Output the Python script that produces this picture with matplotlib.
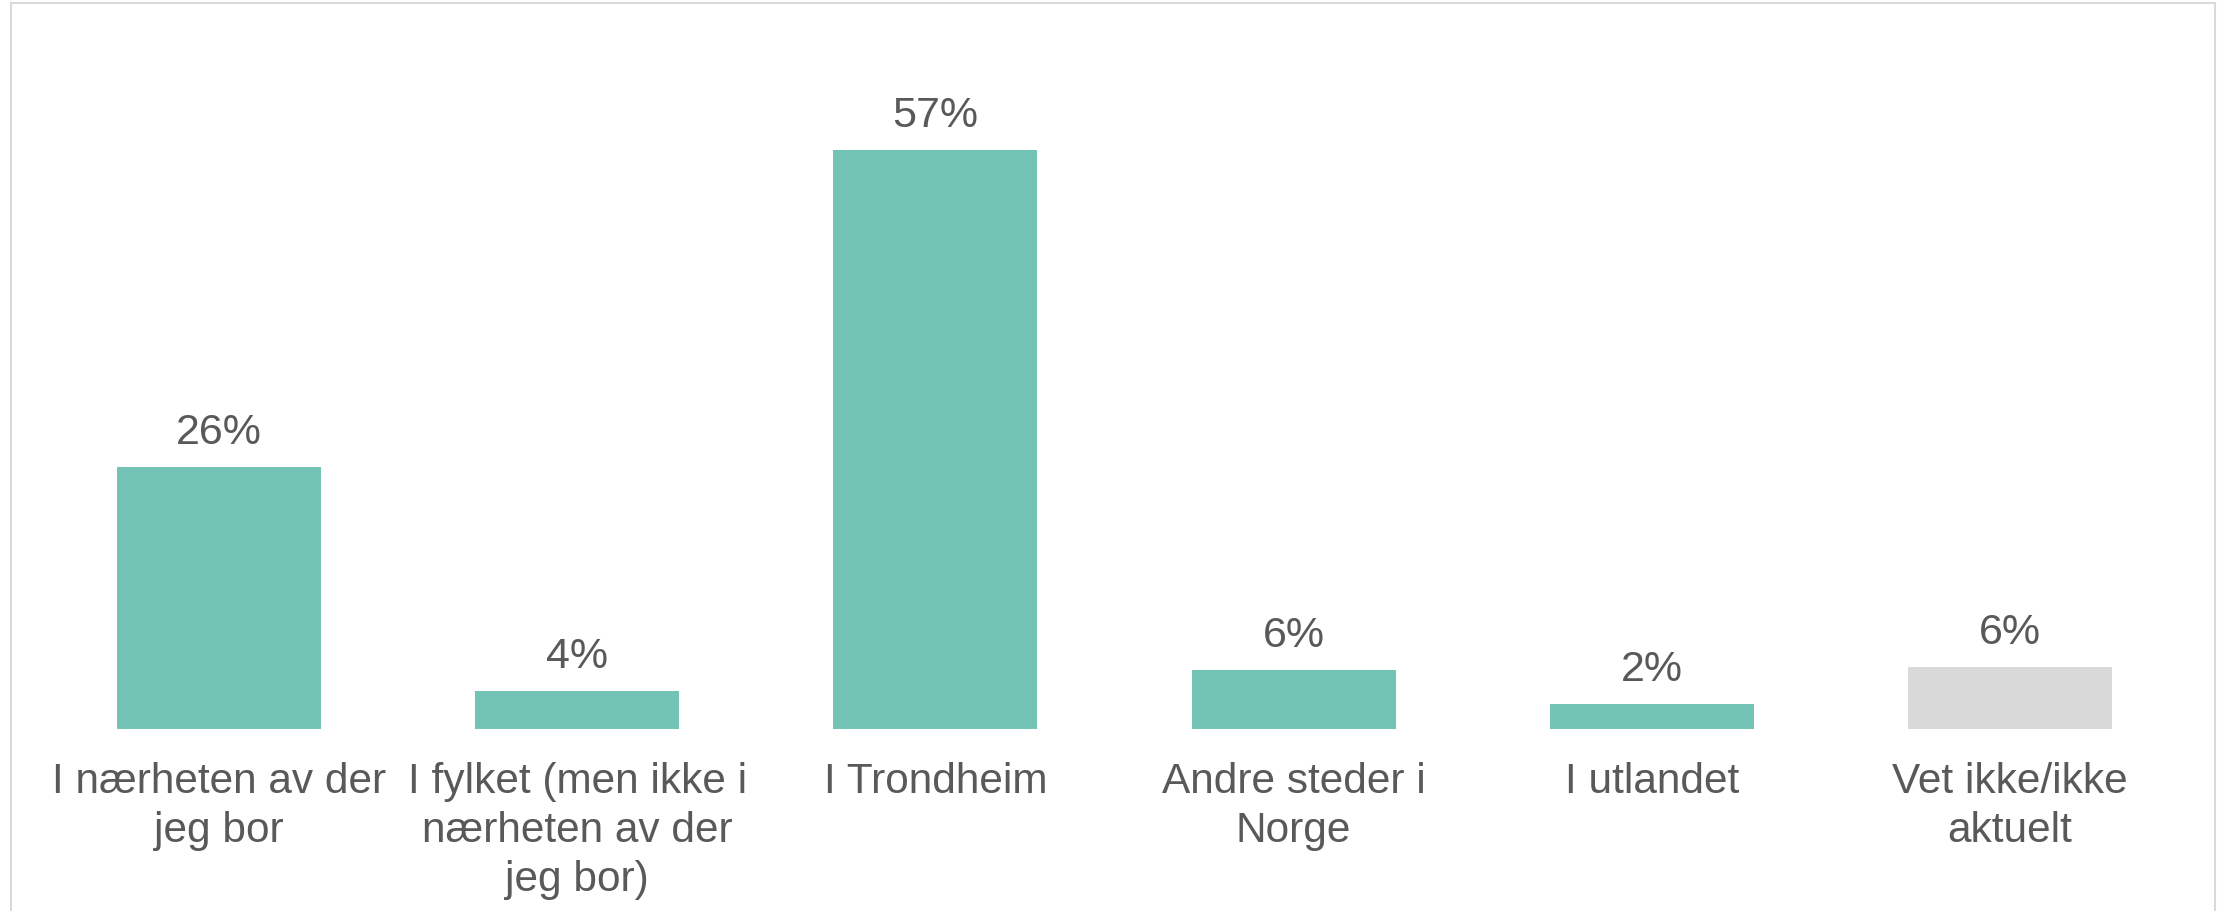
import matplotlib
matplotlib.use("Agg")
import matplotlib.pyplot as plt
from matplotlib.lines import Line2D

categories = ["I nærheten av der\njeg bor",
              "I fylket (men ikke i\nnærheten av der\njeg bor)",
              "I Trondheim",
              "Andre steder i\nNorge",
              "I utlandet",
              "Vet ikke/ikke\naktuelt"]
values = [25.8, 3.7, 57.0, 5.8, 2.5, 6.1]
value_labels = ["26%", "4%", "57%", "6%", "2%", "6%"]
colors = ["#73C4B4"] * 5 + ["#D9D9D9"]
text_color = "#595959"

plt.rcParams['font.family'] = ['Liberation Sans', 'DejaVu Sans']

W, H = 2231, 911
fig = plt.figure(figsize=(W / 100, H / 100), dpi=100)
ax = fig.add_axes([40 / W, 1 - 729 / H, (2189 - 40) / W, 610 / H])

x = list(range(len(categories)))
bars = ax.bar(x, values, width=0.57, color=colors)
ax.set_xlim(-0.5, len(categories) - 0.5)
ax.set_ylim(0, 60)

for xi, v, lab in zip(x, values, value_labels):
    ax.annotate(lab, (xi, v), xytext=(0, 16.5), textcoords='offset points',
                ha='center', va='baseline', fontsize=31, color=text_color)

ax.set_xticks(x)
ax.set_xticklabels(categories, fontsize=30.5, color=text_color, linespacing=1.28)
ax.tick_params(axis='x', length=0, pad=24)
ax.set_yticks([])
for s in ax.spines.values():
    s.set_visible(False)

# outer chart border (left, top, right)
bc = "#D9D9D9"
fig.add_artist(Line2D([10.5 / W, 10.5 / W], [0, 1 - 2.5 / H], transform=fig.transFigure, color=bc, lw=1.5))
fig.add_artist(Line2D([10.5 / W, 2215 / W], [1 - 2.5 / H, 1 - 2.5 / H], transform=fig.transFigure, color=bc, lw=1.5))
fig.add_artist(Line2D([2215 / W, 2215 / W], [0, 1 - 2.5 / H], transform=fig.transFigure, color=bc, lw=1.5))

fig.savefig("out.png", dpi=100, facecolor="white")
